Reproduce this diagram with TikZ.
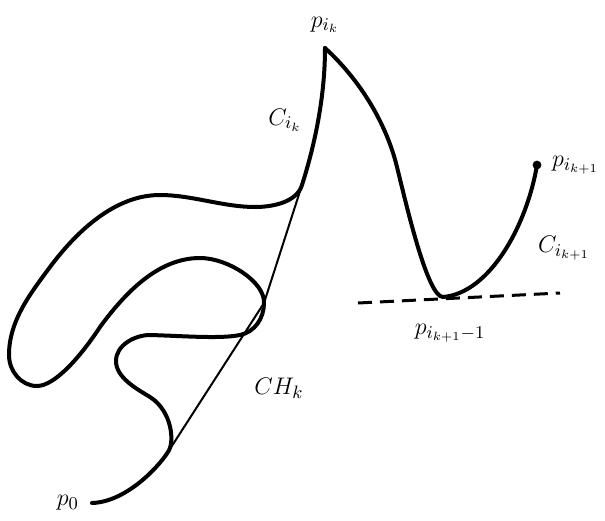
\documentclass[tikz,border=0pt]{standalone}
\usetikzlibrary{positioning}
\begin{document}
\begin{tikzpicture}[x=0.5pt,y=-0.5pt,font=\fontsize{13}{15}\selectfont,
  curve/.style={line width=2pt,line join=round,line cap=round},
  hull/.style={line width=1pt},
  tangent/.style={line width=1.5pt,dash pattern=on 7pt off 4pt}]
\useasboundingbox (0,0) rectangle (605,520);
\coordinate (P0) at (92,503); \coordinate (Pk) at (325,48); \coordinate (Pk1) at (537,165);
\coordinate (H1) at (302,185); \coordinate (H2) at (264,303); \coordinate (H3) at (168,452);
\coordinate (Q) at (443,297);
% curve from p0 up to the peak
\draw[curve] (P0) .. controls (125,502) and (157,469) .. (H3)
  .. controls (175,442) and (172,411) .. (150,397)
  .. controls (135,388) and (116,377) .. (116,361)
  .. controls (116,345) and (135,335) .. (150,335)
  .. controls (185,336) and (220,339) .. (240,335)
  .. controls (255,332) and (264,318) .. (H2)
  .. controls (265,282) and (228,258) .. (200,258)
  .. controls (158,258) and (125,293) .. (100,327)
  .. controls (81,356) and (55,386) .. (37,386)
  .. controls (21,386) and (9,371) .. (9,355)
  .. controls (9,321) and (30,294) .. (50,267)
  .. controls (77,231) and (115,195) .. (160,195)
  .. controls (192,195) and (223,207) .. (255,207)
  .. controls (273,207) and (297,202) .. (H1)
  .. controls (316,141) and (325,94) .. (Pk);
% curve from the peak down to the end point
\draw[curve] (Pk) .. controls (359,79) and (386,122) .. (397,167)
  .. controls (408,212) and (428,297) .. (Q)
  .. controls (490,293) and (527,225) .. (Pk1);
\fill (Pk1) circle (2.2pt);
\draw[hull] (H1)--(H2)--(H3);
\coordinate (D1) at (358,303); \coordinate (D2) at (560,293);
\draw[tangent] (D1)--(D2);
\node[above=4pt of Pk] (lpk) {$p_{i_k}$};
\node (lck) at (285,120) {$C_{i_k}$};
\node[right=4pt of Pk1] (lpk1) {$p_{i_{k+1}}$};
\node (lck1) at (564,248) {$C_{i_{k+1}}$};
\node (lq) at (450,333) {$p_{i_{k+1}-1}$};
\node (lch) at (279,388) {$CH_k$};
\node[left=3pt of P0] (lp0) {$p_0$};
\end{tikzpicture}
\end{document}
